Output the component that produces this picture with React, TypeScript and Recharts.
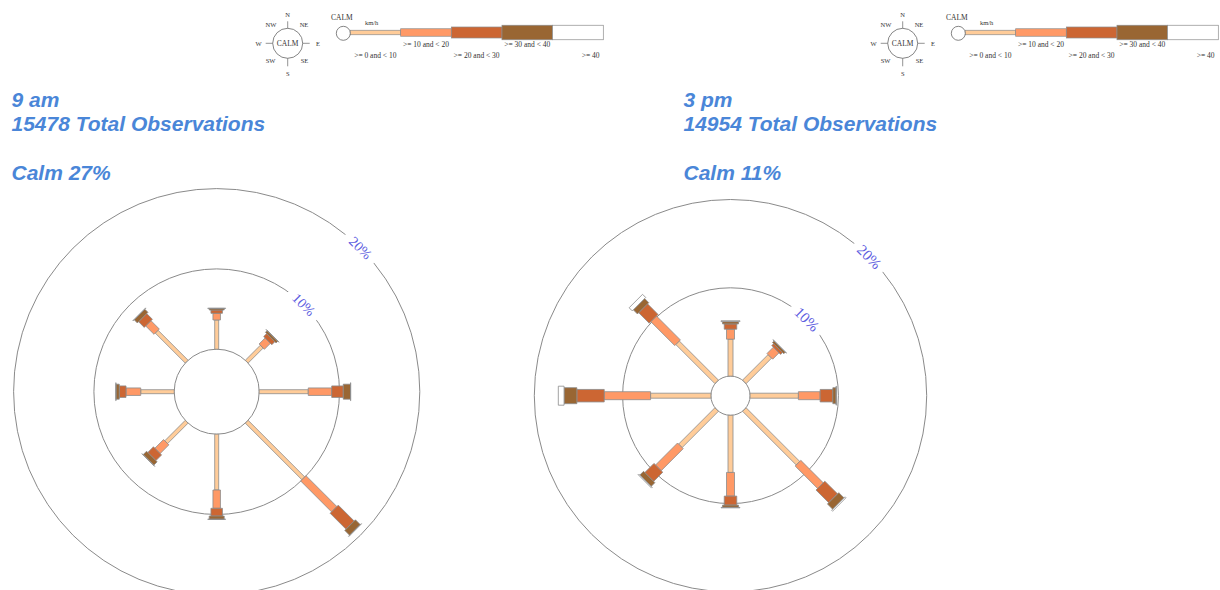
import React from 'react';
import { RadialBarChart, RadialBar, PolarAngleAxis, PolarRadiusAxis, PolarGrid } from 'recharts';

// ---------- data ----------
const directions = ['N', 'NE', 'E', 'SE', 'S', 'SW', 'W', 'NW'];
const speedClasses = ['>= 0 and < 10', '>= 10 and < 20', '>= 20 and < 30', '>= 30 and < 40', '>= 40'];
const speedKeys = ['s0', 's1', 's2', 's3', 's4'];
const ringTicks = [0, 10, 20];

const panelTimes = ['9 am', '3 pm'];
const totalObservations = [15478, 14954];
const calmPercent = [27, 11];

// 9 am: % of observations per direction (N, NE, E, SE, S, SW, W, NW)
const am0to10 = [3.64, 2.64, 6.11, 9.96, 6.95, 3.6, 4.17, 5.28];
const am10to20 = [0.83, 1.06, 2.92, 5.44, 2.28, 1.53, 1.83, 1.47];
const am20to30 = [0.41, 0.53, 1.44, 2.8, 0.96, 1.0, 0.84, 1.0];
const am30to40 = [0.2, 0.3, 0.9, 0.85, 0.4, 0.6, 0.41, 0.55];
const am40plus = [0.02, 0.02, 0.03, 0.05, 0.01, 0.02, 0.02, 0.05];

// 3 pm
const pm0to10 = [4.18, 4.08, 5.47, 8.59, 6.47, 5.81, 6.83, 6.26];
const pm10to20 = [1.13, 1.02, 2.46, 3.59, 2.68, 3.52, 5.25, 3.83];
const pm20to30 = [0.6, 0.3, 1.44, 2.03, 1.02, 1.47, 3.1, 1.69];
const pm30to40 = [0.26, 0.25, 0.37, 0.84, 0.26, 0.6, 1.45, 0.66];
const pm40plus = [0.1, 0.04, 0.03, 0.15, 0.05, 0.1, 0.65, 0.5];

// ---------- styles ----------
const speedColors = ['#FFCC99', '#FF9966', '#CC6633', '#996633', '#FFFFFF'];
const titleColor = '#4a86d8';
const ringLabelColor = '#5c5ce0';
const gridColor = '#8a8a8a';

const buildRows = (series: number[][]) =>
  directions.map((dir, i) => {
    const row: Record<string, any> = { dir };
    speedKeys.forEach((k, j) => {
      row[k] = series[j][i];
    });
    return row;
  });

const amData = buildRows([am0to10, am10to20, am20to30, am30to40, am40plus]);
const pmData = buildRows([pm0to10, pm10to20, pm20to30, pm30to40, pm40plus]);

const makeShape = (halfWidth: number, fill: string) => (props: any) => {
  const { cx, cy, innerRadius, outerRadius, startAngle, endAngle } = props;
  if (!(outerRadius > innerRadius)) return <g />;
  const mid = (startAngle + endAngle) / 2;
  const a = (-mid * Math.PI) / 180;
  const ux = Math.cos(a);
  const uy = Math.sin(a);
  const px = -uy;
  const py = ux;
  const p = (r: number, s: number) => `${cx + r * ux + s * halfWidth * px},${cy + r * uy + s * halfWidth * py}`;
  return (
    <polygon
      points={[p(innerRadius, 1), p(outerRadius, 1), p(outerRadius, -1), p(innerRadius, -1)].join(' ')}
      fill={fill}
      stroke="#8c8c8c"
      strokeWidth={0.8}
    />
  );
};

const makeRingTick = (fontSize: number) => (props: any) => {
  const { x, y, payload } = props;
  if (!payload || payload.value === 0) return <g />;
  return (
    <g transform={`rotate(45, ${x}, ${y})`}>
      <rect x={x - 20} y={y - 7} width={40} height={14} fill="#ffffff" />
      <text
        x={x}
        y={y}
        textAnchor="middle"
        dominantBaseline="central"
        fontFamily="'Liberation Serif', serif"
        fontSize={fontSize}
        fill={ringLabelColor}
      >
        {`${payload.value}%`}
      </text>
    </g>
  );
};

type RoseProps = {
  data: any[];
  left: number;
  cx: number;
  cy: number;
  inner: number;
  perPct: number;
  widths: number[];
  labelSize: number;
};

function Rose({ data, left, cx, cy, inner, perPct, widths, labelSize }: RoseProps) {
  const maxDomain = 25;
  return (
    <div style={{ position: 'absolute', left, top: 180, width: 440, height: 410 }}>
      <RadialBarChart
        width={440}
        height={410}
        data={data}
        layout="centric"
        cx={cx}
        cy={cy}
        innerRadius={inner}
        outerRadius={inner + maxDomain * perPct}
        startAngle={67.5}
        endAngle={-292.5}
        margin={{ top: 0, right: 0, bottom: 0, left: 0 }}
      >
        <PolarGrid gridType="circle" radialLines={false} stroke={gridColor} strokeWidth={1} />
        <PolarAngleAxis type="category" dataKey="dir" tick={false} axisLine={false} tickLine={false} />
        <PolarRadiusAxis
          type="number"
          domain={[0, maxDomain]}
          ticks={ringTicks}
          angle={45}
          axisLine={false}
          tickLine={false}
          tick={makeRingTick(labelSize)}
        />
        {speedKeys.map((k, j) => (
          <RadialBar
            key={k}
            dataKey={k}
            stackId="a"
            isAnimationActive={false}
            fill={speedColors[j]}
            shape={makeShape(widths[j] / 2, speedColors[j])}
          />
        ))}
      </RadialBarChart>
    </div>
  );
}

function SpeedLegend({ dx }: { dx: number }) {
  const cx = 287.7;
  const cy = 43.3;
  const compassPos: Record<string, [number, number]> = {
    N: [287.7, 16.5],
    NE: [304, 27],
    E: [318, 45.5],
    SE: [304.5, 63],
    S: [287.7, 76],
    SW: [270.5, 63],
    W: [258.5, 45.5],
    NW: [271, 27],
  };
  const segStart = (i: number) => 350 + 50.66 * i;
  const segH = [4.5, 7.5, 11, 14.5, 14.5];
  const barY = 32.5;
  return (
    <g transform={`translate(${dx},0)`} fontFamily="'Liberation Serif', serif" fill="#333">
      <circle cx={cx} cy={cy} r={15} fill="#fff" stroke="#666" strokeWidth={0.8} />
      <text x={cx} y={cy + 2.5} fontSize={7.5} textAnchor="middle">CALM</text>
      <line x1={cx} y1={cy - 15} x2={cx} y2={cy - 22} stroke="#666" strokeWidth={0.7} />
      <line x1={cx} y1={cy + 15} x2={cx} y2={cy + 23} stroke="#666" strokeWidth={0.7} />
      <line x1={cx - 15} y1={cy} x2={cx - 22} y2={cy} stroke="#666" strokeWidth={0.7} />
      <line x1={cx + 15} y1={cy} x2={cx + 22} y2={cy} stroke="#666" strokeWidth={0.7} />
      {directions.map((d) => (
        <text key={d} x={compassPos[d][0]} y={compassPos[d][1]} fontSize={6.5} textAnchor="middle">
          {d}
        </text>
      ))}
      <text x={331} y={20} fontSize={7.5}>CALM</text>
      <text x={365} y={25} fontSize={6.5}>km/h</text>
      {speedKeys.map((k, i) => (
        <rect
          key={k}
          x={segStart(i)}
          y={barY - segH[i] / 2}
          width={50.66}
          height={segH[i]}
          fill={speedColors[i]}
          stroke="#8c8c8c"
          strokeWidth={0.7}
        />
      ))}
      <circle cx={343.3} cy={33.3} r={7} fill="#fff" stroke="#666" strokeWidth={0.8} />
      {speedClasses.map((label, i) => (
        <text
          key={label}
          x={i === 4 ? segStart(i) + 38 : segStart(i) + 25.3}
          y={i % 2 === 0 ? 58 : 47}
          fontSize={7.5}
          textAnchor="middle"
        >
          {label}
        </text>
      ))}
    </g>
  );
}

function Titles({ x, idx }: { x: number; idx: number }) {
  const common = {
    fontFamily: "'Liberation Sans', Arial, sans-serif",
    fontWeight: 'bold' as const,
    fontStyle: 'italic' as const,
    fontSize: 21,
    fill: titleColor,
  };
  return (
    <g {...common}>
      <text x={x} y={106.7}>{panelTimes[idx]}</text>
      <text x={x} y={131.2}>{`${totalObservations[idx]} Total Observations`}</text>
      <text x={x} y={180.2}>{`Calm ${calmPercent[idx]}%`}</text>
    </g>
  );
}

export default function App() {
  return (
    <div style={{ position: 'absolute', left: 0, top: 0, width: 1220, height: 590, background: '#fff', overflow: 'hidden' }}>
      <svg width={1220} height={590} style={{ position: 'absolute', left: 0, top: 0 }}>
        <SpeedLegend dx={0} />
        <SpeedLegend dx={615} />
        <Titles x={11.5} idx={0} />
        <Titles x={683.5} idx={1} />
      </svg>
      <Rose
        data={amData}
        left={0}
        cx={216.7}
        cy={211.7}
        inner={42.5}
        perPct={8.03}
        widths={[4, 7.5, 11.5, 15, 18]}
        labelSize={14}
      />
      <Rose
        data={pmData}
        left={520}
        cx={210.5}
        cy={215.7}
        inner={19.6}
        perPct={8.83}
        widths={[5, 8, 12.5, 16, 19]}
        labelSize={15}
      />
    </div>
  );
}
